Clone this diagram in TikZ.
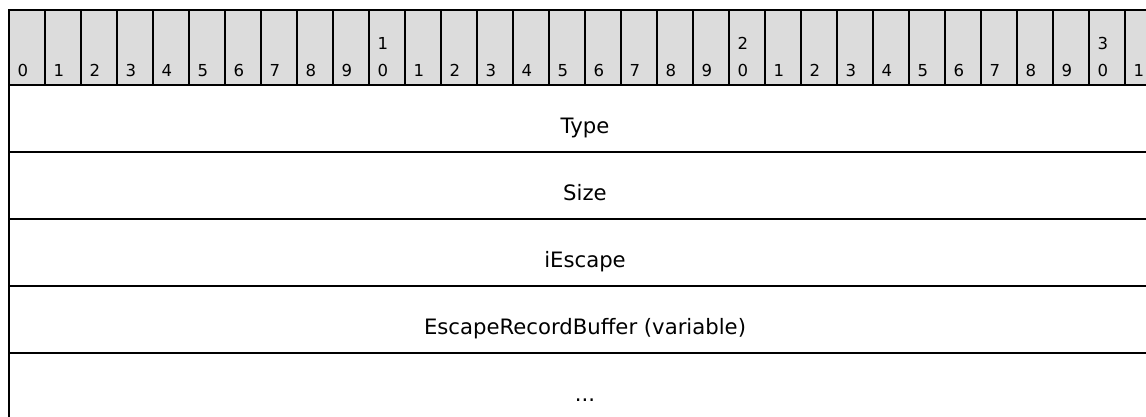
\documentclass[tikz,border=0pt]{standalone}
\usepackage{fontspec}
\setmainfont{DejaVu Sans}
\definecolor{hdrgray}{HTML}{DCDCDC}
\tikzset{
  hdr/.style={fill=hdrgray},
  collinebox/.style={line width=1.2pt, draw=black},
  rowline/.style={line width=1.8pt, draw=black},
  outerline/.style={line width=2.2pt, draw=black},
  dig/.style={inner sep=0pt, font=\fontsize{16.5}{20}\selectfont},
  field/.style={inner sep=0pt, font=\fontsize{21.2}{26}\selectfont}
}
\begin{document}
\begin{tikzpicture}[x=1pt,y=-1pt]
\useasboundingbox (0,0) rectangle (1146,416);
\clip (0,0) rectangle (1146,416);
\fill[hdr] (9,10) rectangle (1161,85);
\foreach \i in {1,...,31} {
  \draw[collinebox] (9+36*\i,10) -- (9+36*\i,85);
}
\foreach \i in {0,...,31} {
  \pgfmathtruncatemacro\u{mod(\i,10)}
  \pgfmathtruncatemacro\t{div(\i,10)}
  \node[dig, anchor=base west] (b\i) at (17.5+36*\i,76) {\u};
  \ifnum\u=0 \ifnum\i>0
    \node[dig, anchor=base west] (t\i) at (17.5+36*\i,49) {\t};
  \fi\fi
}
\coordinate (L0) at (9,85);   \coordinate (R0) at (1161,85);
\coordinate (L1) at (9,152);  \coordinate (R1) at (1161,152);
\coordinate (L2) at (9,219);  \coordinate (R2) at (1161,219);
\coordinate (L3) at (9,286);  \coordinate (R3) at (1161,286);
\coordinate (L4) at (9,353);  \coordinate (R4) at (1161,353);
\draw[rowline] (L0) -- (R0);
\draw[rowline] (L1) -- (R1);
\draw[rowline] (L2) -- (R2);
\draw[rowline] (L3) -- (R3);
\draw[rowline] (L4) -- (R4);
\coordinate (TL) at (9,10); \coordinate (TR) at (1161,10); \coordinate (BL) at (9,420);
\draw[outerline] (TR) -- (TL) -- (BL);
\node[field, anchor=base] (type) at (585,133) {Type};
\node[field, anchor=base] (size) at (585,200) {Size};
\node[field, anchor=base] (iesc) at (585,267) {iEscape};
\node[field, anchor=base] (erb) at (585,334) {EscapeRecordBuffer (variable)};
\node[field, anchor=base] (more) at (585,401) {...};
\end{tikzpicture}
\end{document}
